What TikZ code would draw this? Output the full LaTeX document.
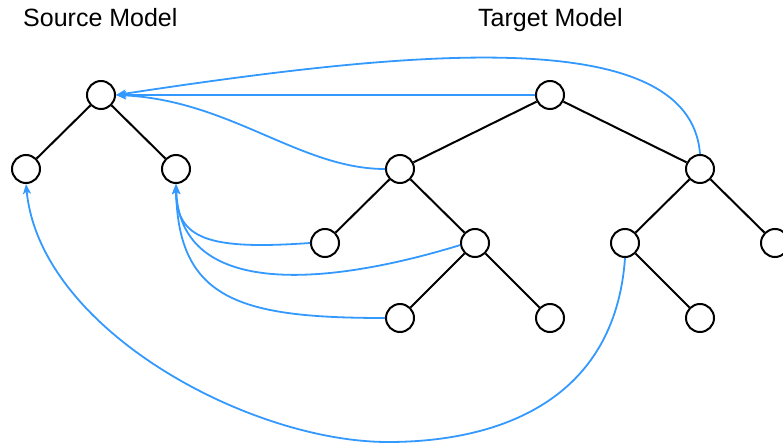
\documentclass[tikz,border=0pt]{standalone}
\usepackage{fontspec}
\setmainfont{Liberation Sans}
\usetikzlibrary{arrows.meta}
\definecolor{linkblue}{RGB}{51,153,255}

\begin{document}
\begin{tikzpicture}[x=1pt,y=1pt,yscale=-1,
  elem/.style={draw,circle,line width=2pt,minimum size=28pt,inner sep=0pt},
  edge/.style={line width=2pt},
  link/.style={draw=linkblue,line width=1.8pt,-{Stealth[length=10pt,width=8pt,inset=2.5pt]}},
  title/.style={anchor=base west,inner sep=0pt,font=\fontsize{25}{30}\selectfont}]
\useasboundingbox (0,0) rectangle (783,443);

% Text Node
\draw (23,27) node [title] (srcttl) {Source Model};
% Text Node
\draw (478,27) node [title] (tgtttl) {Target Model};

%Source model tree
\node [elem] (s0) at (101,95) {};
\node [elem] (s1) at (26,169) {};
\node [elem] (s2) at (176,169) {};
\draw [edge] (s0) -- (s1);
\draw [edge] (s0) -- (s2);

%Target model tree
\node [elem] (t0) at (550,95) {};
\node [elem] (t1) at (400,169) {};
\node [elem] (t2) at (700,169) {};
\node [elem] (t11) at (325,243) {};
\node [elem] (t12) at (475,243) {};
\node [elem] (t21) at (625,243) {};
\node [elem] (t22) at (775,243) {};
\node [elem] (t121) at (400,318) {};
\node [elem] (t122) at (550,318) {};
\node [elem] (t212) at (700,318) {};
\draw [edge] (t0) -- (t1);
\draw [edge] (t0) -- (t2);
\draw [edge] (t1) -- (t11);
\draw [edge] (t1) -- (t12);
\draw [edge] (t2) -- (t21);
\draw [edge] (t2) -- (t22);
\draw [edge] (t12) -- (t121);
\draw [edge] (t12) -- (t122);
\draw [edge] (t21) -- (t212);

%Mappings to the source root
\draw [link] (t0.west) -- (s0.east);
\draw [link] (t2.north) .. controls (690,20) and (400,52) .. (s0.east);
\draw [link] (t1.west) .. controls (300,169) and (230,100) .. (s0.east);

%Mappings to the source right leaf
\draw [link] (t11.west) .. controls (210,250) and (176,240) .. (s2.south);
\draw [link] (t12.188) .. controls (330,285) and (180,300) .. (s2.south);
\draw [link] (t121.west) .. controls (240,318) and (178,300) .. (s2.south);

%Mapping to the source left leaf
\coordinate (low) at (388,442);
\draw [link] (t21.south) .. controls (615,400) and (500,442) .. (low)
  .. controls (250,442) and (40,330) .. (s1.south);
\end{tikzpicture}
\end{document}
